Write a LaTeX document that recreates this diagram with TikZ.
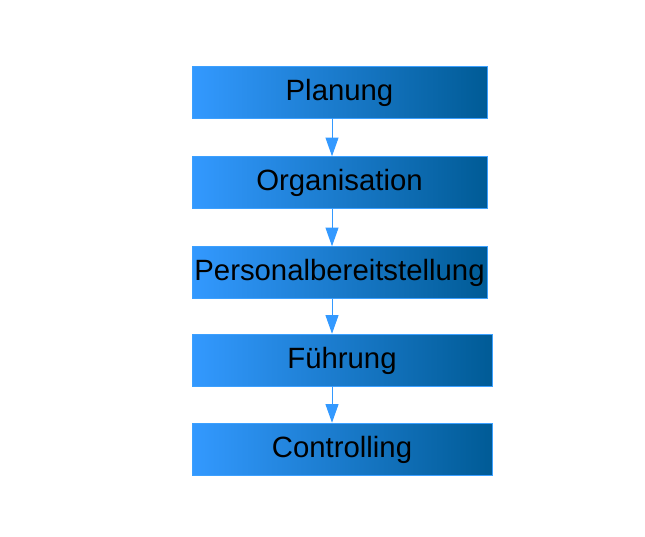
\documentclass[tikz,border=0pt]{standalone}
\usepackage{fontspec}
\setmainfont{Liberation Sans}
\usepackage{tikz}
\usetikzlibrary{arrows.meta}

\begin{document}
\begin{tikzpicture}[x=0.75pt,y=0.75pt,yscale=-1,xscale=1,
	stepbox/.style={rectangle, minimum height=39pt, inner sep=0pt,
		left color={rgb, 255:red, 51; green, 153; blue, 255},
		right color={rgb, 255:red, 0; green, 91; blue, 150},
		draw={rgb, 255:red, 60; green, 160; blue, 255}, line width=0.4pt,
		text depth=5pt, text height=17pt,
		font=\fontsize{22}{26}\selectfont},
	flow/.style={draw={rgb, 255:red, 51; green, 153; blue, 255}, line width=0.75pt,
		-{Triangle[width=9.75pt,length=14pt]}}]
	\useasboundingbox (0,0) rectangle (645,536);
	
	% Boxes
	\node [stepbox, minimum width=221.25pt] (plan) at (339.5,92) {Planung};
	\node [stepbox, minimum width=221.25pt] (orga) at (339.5,182.5) {Organisation};
	\node [stepbox, minimum width=221.25pt] (pers) at (339.5,272.5) {Personalbereitstellung};
	\node [stepbox, minimum width=225pt] (fuehr) at (342,360) {Führung};
	\node [stepbox, minimum width=225pt] (contr) at (342,449) {Controlling};
	
	% Arrows
	\coordinate (axis) at (332,0);
	\draw [flow] (plan.south -| axis) -- (orga.north -| axis);
	\draw [flow] (orga.south -| axis) -- (pers.north -| axis);
	\draw [flow] (pers.south -| axis) -- (fuehr.north -| axis);
	\draw [flow] (fuehr.south -| axis) -- (contr.north -| axis);
	
\end{tikzpicture}
\end{document}
